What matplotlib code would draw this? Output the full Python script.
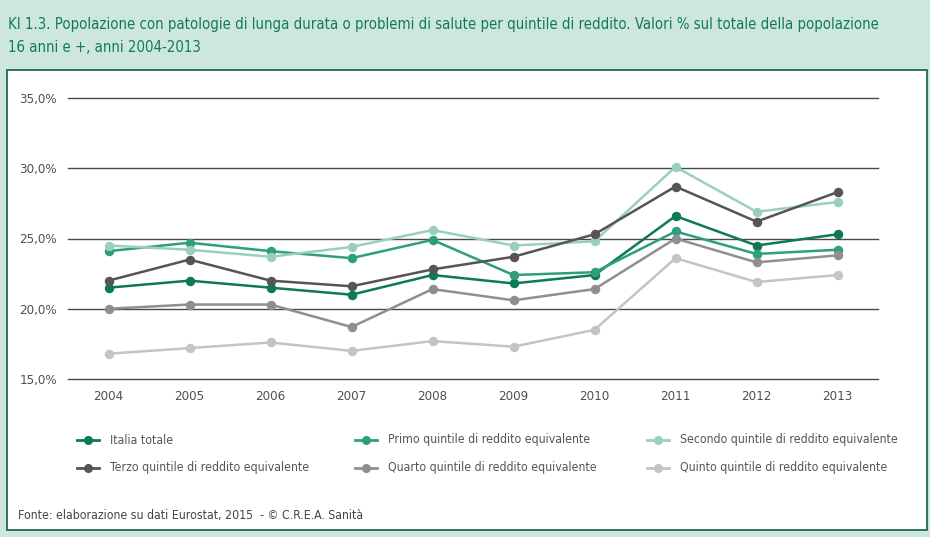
import numpy as np
import matplotlib
matplotlib.use("Agg")
from matplotlib import pyplot as plt
from matplotlib.patches import Rectangle
from matplotlib.lines import Line2D
from matplotlib.ticker import FuncFormatter

years = [2004, 2005, 2006, 2007, 2008, 2009, 2010, 2011, 2012, 2013]
italia = [21.5, 22.0, 21.5, 21.0, 22.4, 21.8, 22.4, 26.6, 24.5, 25.3]
primo = [24.1, 24.7, 24.1, 23.6, 24.9, 22.4, 22.6, 25.5, 23.9, 24.2]
secondo = [24.5, 24.2, 23.7, 24.4, 25.6, 24.5, 24.8, 30.1, 26.9, 27.6]
terzo = [22.0, 23.5, 22.0, 21.6, 22.8, 23.7, 25.3, 28.7, 26.2, 28.3]
quarto = [20.0, 20.3, 20.3, 18.7, 21.4, 20.6, 21.4, 25.0, 23.3, 23.8]
quinto = [16.8, 17.2, 17.6, 17.0, 17.7, 17.3, 18.5, 23.6, 21.9, 22.4]

labels = ["Italia totale", "Primo quintile di reddito equivalente",
          "Secondo quintile di reddito equivalente",
          "Terzo quintile di reddito equivalente",
          "Quarto quintile di reddito equivalente",
          "Quinto quintile di reddito equivalente"]
yticks = [15, 20, 25, 30, 35]

series = [italia, primo, secondo, terzo, quarto, quinto]
colors = ['#0b7a55', '#2e9e80', '#9ad0bb', '#555555', '#8f8f8f', '#c4c4c4']

fnt = dict(family='DejaVu Sans', stretch='condensed')
W, H = 930, 537
fig = plt.figure(figsize=(W / 100, H / 100), dpi=100)
fig.patch.set_facecolor('#cde7dc')

# pannello bianco
fig.patches.append(Rectangle((7 / W, 1 - 530 / H), 920 / W, 460 / H,
                             transform=fig.transFigure, facecolor='white',
                             edgecolor='#1f6b4f', linewidth=1.3, zorder=-5))

fig.text(8 / W, 1 - 25 / H,
         "KI 1.3. Popolazione con patologie di lunga durata o problemi di salute per quintile di reddito. Valori % sul totale della popolazione",
         fontsize=10.7, color='#127a57', va='center', ha='left', **fnt)
fig.text(8 / W, 1 - 48 / H, "16 anni e +, anni 2004-2013",
         fontsize=10.7, color='#127a57', va='center', ha='left', **fnt)

ax = fig.add_axes([68 / W, 1 - 379 / H, 810 / W, 281 / H])
ax.set_facecolor('none')
x = np.arange(len(years))
for s, c in zip(series, colors):
    ax.plot(x, s, color=c, lw=1.8, marker='o', ms=5.8, zorder=3)

ax.set_ylim(15, 35)
ax.set_xlim(-0.5, len(years) - 0.5)
ax.set_yticks(yticks)
ax.yaxis.set_major_formatter(FuncFormatter(
    lambda v, p: ('%.1f%%' % v).replace('.', ',')))
ax.set_xticks(x)
ax.set_xticklabels([str(y) for y in years])
ax.grid(axis='y', color='#4a4a4a', lw=1)
for gl in ax.get_ygridlines():
    gl.set_clip_on(False)
ax.set_axisbelow(True)
for sp in ax.spines.values():
    sp.set_visible(False)
ax.tick_params(length=0, labelsize=9.5, colors='#505050', pad=8)
for t in ax.get_xticklabels() + ax.get_yticklabels():
    t.set_family('DejaVu Sans')
    t.set_stretch('condensed')

# legenda
col_x = [88, 366, 658]
row_y = [440, 468]
for i, (lab, c) in enumerate(zip(labels, colors)):
    cx = col_x[i % 3]
    cy = row_y[i // 3]
    fig.lines.append(Line2D([(cx - 11) / W, (cx + 11) / W], [1 - cy / H] * 2,
                            color=c, lw=2, transform=fig.transFigure))
    fig.lines.append(Line2D([cx / W], [1 - cy / H], color=c, marker='o', ms=5.5,
                            transform=fig.transFigure))
    fig.text((cx + 22) / W, 1 - cy / H, lab, fontsize=8.8, color='#555555',
             va='center', ha='left', **fnt)

fig.text(18 / W, 1 - 516 / H,
         "Fonte: elaborazione su dati Eurostat, 2015  - \u00a9 C.R.E.A. Sanit\u00e0",
         fontsize=8.8, color='#444444', va='center', ha='left', **fnt)

fig.savefig('out.png', dpi=100, facecolor=fig.get_facecolor())
